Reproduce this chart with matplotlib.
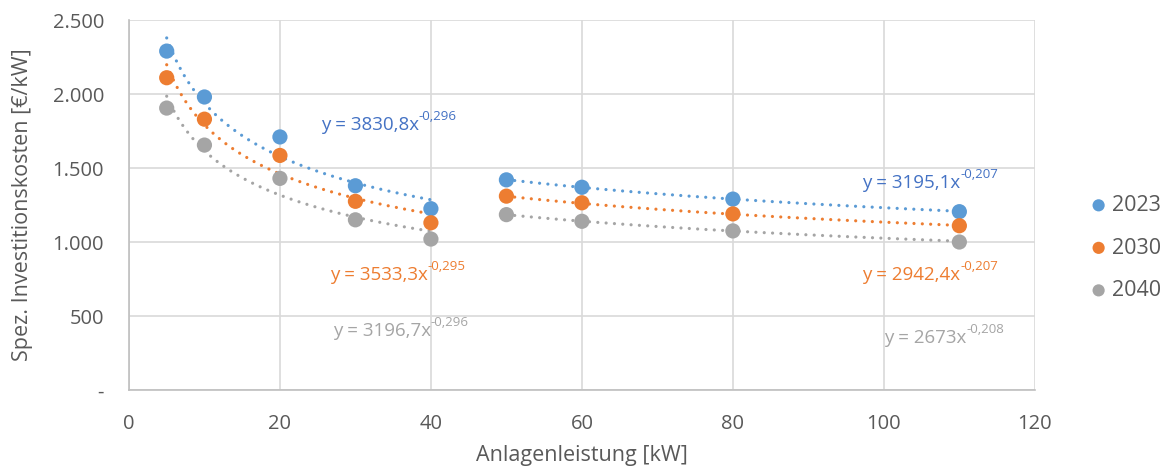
import matplotlib
matplotlib.use("Agg")
import matplotlib.pyplot as plt
import numpy as np

plt.rcParams['font.family'] = ['Open Sans', 'DejaVu Sans']

# Data
x_vals = [5, 10, 20, 30, 40, 50, 60, 80, 110]
y_2023 = [2290, 1980, 1710, 1380, 1225, 1420, 1370, 1290, 1205]
y_2030 = [2110, 1830, 1585, 1275, 1130, 1310, 1265, 1190, 1110]
y_2040 = [1905, 1655, 1430, 1150, 1020, 1185, 1140, 1075, 1000]
series_names = ['2023', '2030', '2040']

# Trendline coefficients (power fits): segment 1 (5-40 kW), segment 2 (50-110 kW)
seg1_range = (5, 40)
seg2_range = (50, 110)
coef_seg1 = [(3830.8, -0.296), (3533.3, -0.295), (3196.7, -0.296)]
coef_seg2 = [(3195.1, -0.207), (2942.4, -0.207), (2673.0, -0.208)]
eq_seg1 = ['3830,8', '3533,3', '3196,7']
exp_seg1 = ['-0,296', '-0,295', '-0,296']
eq_seg2 = ['3195,1', '2942,4', '2673']
exp_seg2 = ['-0,207', '-0,207', '-0,208']

x_ticks = [0, 20, 40, 60, 80, 100, 120]
y_ticks = [0, 500, 1000, 1500, 2000, 2500]
y_tick_labels = ['-', '500', '1.000', '1.500', '2.000', '2.500']

colors = ['#5B9BD5', '#ED7D31', '#A5A5A5']
eq_colors = ['#4472C4', '#ED7D31', '#A5A5A5']

fig = plt.figure(figsize=(11.68, 4.72), dpi=100)
ax = fig.add_axes([0.1104, 0.1737, 0.7756, 0.7839])

series = [y_2023, y_2030, y_2040]
for i, ys in enumerate(series):
    ax.scatter(x_vals, ys, s=120, color=colors[i], zorder=3, label=series_names[i],
               edgecolors='none')
    for (a, b), (lo, hi) in ((coef_seg1[i], seg1_range), (coef_seg2[i], seg2_range)):
        xx = np.linspace(lo, hi, 300)
        ax.plot(xx, a * xx ** b, linestyle=(0, (0.01, 2.6)), linewidth=2.3,
                color=colors[i], dash_capstyle='round', zorder=2)

# Equation labels
def eq_label(x, y, base, exp, color):
    t = ax.text(x, y, 'y = %sx' % base, color=color, fontsize=13.5,
                va='center', ha='left')
    ax.annotate(exp, xy=(1.0, 0.62), xycoords=t, color=color, fontsize=9.5,
                va='bottom', ha='left')

eq1_pos = [(25.4, 1790), (26.6, 777), (27.0, 400)]
eq2_pos = [(97.1, 1400), (97.1, 777), (100.0, 351)]
for i in range(3):
    eq_label(eq1_pos[i][0], eq1_pos[i][1], eq_seg1[i], exp_seg1[i], eq_colors[i])
    eq_label(eq2_pos[i][0], eq2_pos[i][1], eq_seg2[i], exp_seg2[i], eq_colors[i])

ax.set_xlim(0, 120)
ax.set_ylim(0, 2500)
ax.set_xticks(x_ticks)
ax.set_yticks(y_ticks)
ax.set_yticklabels(y_tick_labels)
ax.grid(True, color='#D9D9D9', linewidth=1.2)
ax.set_axisbelow(True)
for s in ['top', 'right']:
    ax.spines[s].set_visible(False)
for s in ['left', 'bottom']:
    ax.spines[s].set_color('#BFBFBF')
    ax.spines[s].set_linewidth(1.2)
ax.tick_params(length=0, labelsize=14.5, labelcolor='#595959')
ax.tick_params(axis='y', pad=18)
ax.tick_params(axis='x', pad=17)

ax.set_xlabel('Anlagenleistung [kW]', fontsize=15.5, color='#595959', labelpad=8)
ax.set_ylabel('Spez. Investitionskosten [€/kW]', fontsize=15.5, color='#595959', labelpad=14)

leg = ax.legend(loc='center left', bbox_to_anchor=(1090 / 1168, 1 - 248 / 472),
                bbox_transform=fig.transFigure, frameon=False, borderaxespad=0,
                borderpad=0, fontsize=15.5, handlelength=0.8, handletextpad=0.2,
                labelspacing=1.0, markerscale=0.8, labelcolor='#595959')

fig.savefig('out.png', dpi=100)
